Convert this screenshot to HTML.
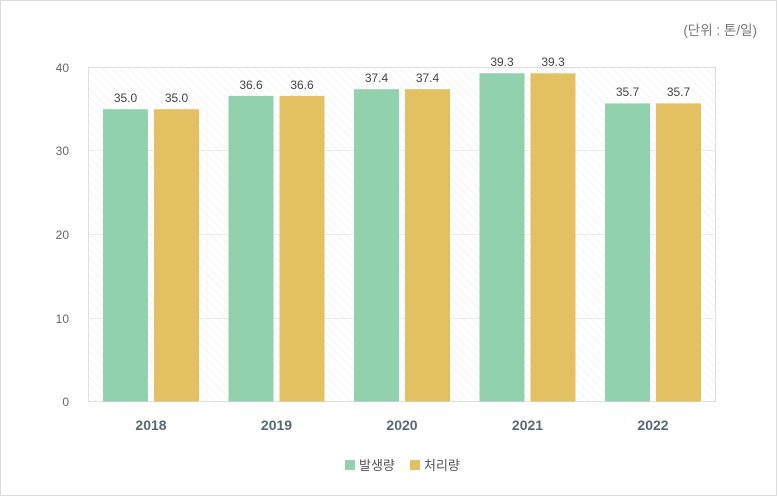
<!DOCTYPE html>
<html><head><meta charset="utf-8"><style>
html,body{margin:0;padding:0;background:#fff;}
body{width:778px;height:497px;overflow:hidden;position:relative;font-family:"Liberation Sans","Noto Sans CJK KR",sans-serif;}
</style></head><body>
<svg width="778" height="497" viewBox="0 0 778 497" xmlns="http://www.w3.org/2000/svg" style="position:absolute;left:0;top:0">
<defs>
<pattern id="hatch" patternUnits="userSpaceOnUse" width="6" height="6" patternTransform="rotate(-45)">
<rect width="6" height="6" fill="#fff"/>
<line x1="0" y1="0" x2="0" y2="6" stroke="#f0f0f0" stroke-width="1.5"/>
</pattern>
</defs>
<rect x="0.5" y="0.5" width="776" height="495" fill="#fff" stroke="#dcdcdc" stroke-width="1"/>
<text x="757" y="35" text-anchor="end" font-size="13.5" fill="#777" font-family="Liberation Sans, Noto Sans CJK KR, sans-serif">(단위 : 톤/일)</text>
<rect x="88.5" y="67.5" width="627" height="334" fill="url(#hatch)" stroke="#dedede" stroke-width="1"/>
<g stroke="#ececec" stroke-width="1">
<line x1="89" y1="150.5" x2="715" y2="150.5"/>
<line x1="89" y1="234.5" x2="715" y2="234.5"/>
<line x1="89" y1="318.5" x2="715" y2="318.5"/>
</g>
<g font-size="12" fill="#666" text-anchor="end">
<text x="69" y="72">40</text>
<text x="69" y="155">30</text>
<text x="69" y="239">20</text>
<text x="69" y="323">10</text>
<text x="69" y="406">0</text>
</g>
<g>
<rect x="103" y="109.2" width="45" height="292.3" fill="#92d1ae"/>
<rect x="154" y="109.2" width="45" height="292.3" fill="#e3c062"/>
<rect x="228.5" y="95.9" width="45" height="305.6" fill="#92d1ae"/>
<rect x="279.5" y="95.9" width="45" height="305.6" fill="#e3c062"/>
<rect x="354" y="89.2" width="45" height="312.3" fill="#92d1ae"/>
<rect x="405" y="89.2" width="45" height="312.3" fill="#e3c062"/>
<rect x="479.5" y="73.3" width="45" height="328.2" fill="#92d1ae"/>
<rect x="530.5" y="73.3" width="45" height="328.2" fill="#e3c062"/>
<rect x="605" y="103.4" width="45" height="298.1" fill="#92d1ae"/>
<rect x="656" y="103.4" width="45" height="298.1" fill="#e3c062"/>
</g>
<g font-size="12" fill="#444" text-anchor="middle">
<text x="125.5" y="102">35.0</text><text x="176.5" y="102">35.0</text>
<text x="251" y="89">36.6</text><text x="302" y="89">36.6</text>
<text x="376.5" y="82">37.4</text><text x="427.5" y="82">37.4</text>
<text x="502" y="66">39.3</text><text x="553" y="66">39.3</text>
<text x="627.5" y="96">35.7</text><text x="678.5" y="96">35.7</text>
</g>
<g font-size="14" font-weight="bold" fill="#56687a" text-anchor="middle">
<text x="151" y="430">2018</text>
<text x="276.5" y="430">2019</text>
<text x="402" y="430">2020</text>
<text x="527.5" y="430">2021</text>
<text x="653" y="430">2022</text>
</g>
<rect x="345" y="460" width="10" height="10" fill="#92d1ae"/>
<text x="359" y="470" font-size="13" fill="#555">발생량</text>
<rect x="410" y="460" width="10" height="10" fill="#e3c062"/>
<text x="424" y="470" font-size="13" fill="#555">처리량</text>
</svg>
</body></html>
